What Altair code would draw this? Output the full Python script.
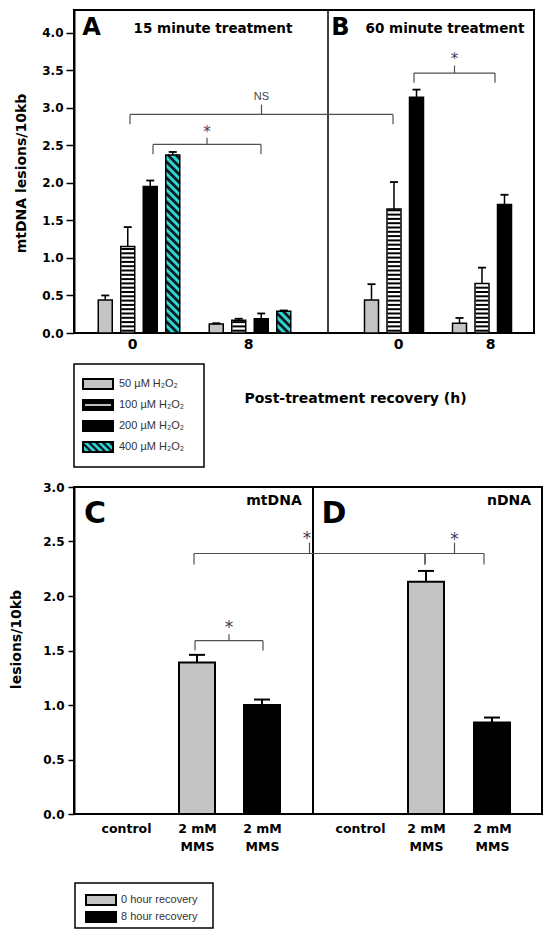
import altair as alt
import numpy as np
import pandas as pd

# ------------------------------------------------------------------ data
conc_labels = ["50 µM H₂O₂", "100 µM H₂O₂", "200 µM H₂O₂", "400 µM H₂O₂"]
recovery_hours = ["0", "8"]
treat15_0h = [0.44, 1.15, 1.95, 2.37]
treat15_0h_err = [0.06, 0.26, 0.08, 0.04]
treat15_8h = [0.12, 0.17, 0.19, 0.29]
treat15_8h_err = [0.01, 0.02, 0.07, 0.01]
treat60_0h = [0.44, 1.65, 3.14]
treat60_0h_err = [0.21, 0.36, 0.10]
treat60_8h = [0.13, 0.66, 1.71]
treat60_8h_err = [0.07, 0.21, 0.13]

mms_categories = ["control", "2 mM MMS", "2 mM MMS"]
mms_series = ["control", "0 hour recovery", "8 hour recovery"]
mtdna_lesions = [0.0, 1.39, 1.00]
mtdna_err = [0.0, 0.07, 0.05]
ndna_lesions = [0.0, 2.13, 0.84]
ndna_err = [0.0, 0.10, 0.045]

# ------------------------------------------------------------------ style / layout
FONT = "DejaVu Sans"
LFONT = "Liberation Sans"
GRAY = "#c4c4c4"
CYAN = "#2cd3d3"
BRK = "#505050"
STAR = "#3b4058"

# top panel (A / B)
TW, TH, TYMAX = 460, 323, 4.3
TKY = TH / TYMAX
T_STEP, T_HW = 22.5, 7
T_DIV = 254
t_centers = [65, 176, 320, 408]
t_tick_pos = [58, 174, 324, 416]

# bottom panel (C / D)
BW, BH, BYMAX = 468, 327, 3.0
BKY = BH / BYMAX
B_HW = 18
B_DIV = 239
b_pos_c = [52, 123, 188]
b_pos_d = [286, 352, 418]


def stripes(x0, x1, y0, y1, ky, period=4.3, start=2.3):
    out = []
    p = start
    while p < (y1 - y0) * ky - 1.2:
        out.append(dict(x=x0, x2=x1, y=y0 + p / ky))
        p += period
    return out


def hatch(x0, x1, y0, y1, ky, period=8.0, flip=False):
    w = x1 - x0
    h = (y1 - y0) * ky
    out = []
    c = period / 2
    while c < w + h:
        u1 = max(0.0, c - h)
        u2 = min(w, c)
        if flip:
            out.append(dict(x=x1 - u1, y=y0 + (c - u1) / ky, x2=x1 - u2, y2=y0 + (c - u2) / ky))
        else:
            out.append(dict(x=x0 + u1, y=y0 + (c - u1) / ky, x2=x0 + u2, y2=y0 + (c - u2) / ky))
        c += period
    return out


def bracket(xl, xr, yline, yend, ytop):
    xm = (xl + xr) / 2
    return [
        dict(x=xl, x2=xr, y=yline, y2=yline),
        dict(x=xl, x2=xl, y=yline, y2=yend),
        dict(x=xr, x2=xr, y=yline, y2=yend),
        dict(x=xm, x2=xm, y=yline, y2=ytop),
    ]


# ------------------------------------------------------------------ top chart data
t_groups = [
    (t_centers[0], treat15_0h, treat15_0h_err),
    (t_centers[1], treat15_8h, treat15_8h_err),
    (t_centers[2], treat60_0h, treat60_0h_err),
    (t_centers[3], treat60_8h, treat60_8h_err),
]
rows = []
for center, vals, errs in t_groups:
    n = len(vals)
    for i, (v, e) in enumerate(zip(vals, errs)):
        cx = center + (i - (n - 1) / 2) * T_STEP
        rows.append(dict(series=conc_labels[i], idx=i, v=v, e=e, up=v + e, cx=cx,
                         x=cx - T_HW, x2=cx + T_HW, zero=0.0, cl=cx - 4, cr=cx + 4))
tb = pd.DataFrame(rows)

t_str = []
t_hat = []
for r in rows:
    if r["idx"] == 1:
        t_str += stripes(r["x"] + 0.6, r["x2"] - 0.6, 0.0, r["v"], TKY)
    if r["idx"] == 3:
        t_hat += hatch(r["x"], r["x2"], 0.0, r["v"], TKY)
t_str = pd.DataFrame(t_str)
t_hat = pd.DataFrame(t_hat)

t_brk = pd.DataFrame(
    bracket(56, 319, 2.91, 2.78, 3.04)
    + bracket(79, 187, 2.51, 2.38, 2.60)
    + bracket(340, 421, 3.46, 3.33, 3.56)
)
t_stars = pd.DataFrame([dict(x=133, y=2.73, t="*"), dict(x=380.5, y=3.70, t="*")])
t_ns = pd.DataFrame([dict(x=187.5, y=3.14, t="NS")])
t_letters = pd.DataFrame([dict(x=17.5, y=4.06, t="A"), dict(x=266.5, y=4.06, t="B")])
t_titles = pd.DataFrame([dict(x=139, y=4.05, t="15 minute treatment"),
                         dict(x=371, y=4.05, t="60 minute treatment")])
t_div = pd.DataFrame([dict(x=T_DIV, y=0.0, y2=TYMAX)])

t_label_expr = " : ".join(
    f"datum.value == {p} ? '{lab}'" for p, lab in zip(t_tick_pos, recovery_hours * 2)
) + " : ''"

t_xscale = alt.Scale(domain=[0, TW], nice=False, zero=False)
t_yscale = alt.Scale(domain=[0, TYMAX], nice=False, zero=False)
t_xaxis = alt.Axis(values=t_tick_pos, labelExpr=t_label_expr, ticks=False, grid=False, domain=False,
                   labelFont=FONT, labelFontSize=14, labelFontWeight="bold", labelColor="black",
                   labelPadding=4, labelFlush=False, labelOverlap=False,
                   title="Post-treatment recovery (h)", titleFont=FONT, titleFontSize=14,
                   titleFontWeight="bold", titleColor="black", titleX=281, titleY=65,
                   titleAlign="center", titleBaseline="middle")
t_yaxis = alt.Axis(values=[0, 0.5, 1.0, 1.5, 2.0, 2.5, 3.0, 3.5, 4.0], format=".1f", grid=False,
                   domain=True, domainColor="black", domainWidth=2, ticks=True, tickColor="black",
                   tickWidth=1.5, tickSize=8, labelFont=FONT, labelFontSize=12, labelFontWeight="bold",
                   labelColor="black", labelPadding=3,
                   title="mtDNA lesions/10kb", titleFont=FONT, titleFontSize=14, titleFontWeight="bold",
                   titleColor="black", titleX=-53, titleY=163, titleAngle=270, titleAlign="center",
                   titleBaseline="middle")


def tx(f):
    return alt.X(f, type="quantitative", scale=t_xscale, axis=t_xaxis)


def ty(f):
    return alt.Y(f, type="quantitative", scale=t_yscale, axis=t_yaxis)


t_color = alt.Color("series:N", scale=alt.Scale(domain=conc_labels, range=[GRAY, "white", "black", CYAN]),
                    legend=None)

top = alt.layer(
    alt.Chart(tb).mark_rect(strokeWidth=0).encode(x=tx("x"), x2="x2", y=ty("v"), y2="zero", color=t_color),
    alt.Chart(t_str).mark_rule(color="black", strokeWidth=2).encode(x=tx("x"), x2="x2", y=ty("y")),
    alt.Chart(t_hat).mark_rule(color="#101418", strokeWidth=2.5).encode(x=tx("x"), x2="x2", y=ty("y"), y2="y2"),
    alt.Chart(tb).mark_rect(fillOpacity=0, stroke="black", strokeWidth=1.5).encode(
        x=tx("x"), x2="x2", y=ty("v"), y2="zero"),
    alt.Chart(tb).mark_rule(color="black", strokeWidth=1.5).encode(x=tx("cx"), y=ty("v"), y2="up"),
    alt.Chart(tb).mark_rule(color="black", strokeWidth=1.8).encode(x=tx("cl"), x2="cr", y=ty("up")),
    alt.Chart(t_div).mark_rule(color="black", strokeWidth=1.5).encode(x=tx("x"), y=ty("y"), y2="y2"),
    alt.Chart(t_brk).mark_rule(color=BRK, strokeWidth=1.2).encode(x=tx("x"), x2="x2", y=ty("y"), y2="y2"),
    alt.Chart(t_stars).mark_text(font=FONT, fontSize=15, color=STAR, baseline="middle", dy=4).encode(
        x=tx("x"), y=ty("y"), text="t:N"),
    alt.Chart(t_ns).mark_text(font=LFONT, fontSize=11, color="#444444", baseline="middle").encode(
        x=tx("x"), y=ty("y"), text="t:N"),
    alt.Chart(t_letters).mark_text(font=FONT, fontSize=24, fontWeight="bold", color="black",
                                   baseline="middle").encode(x=tx("x"), y=ty("y"), text="t:N"),
    alt.Chart(t_titles).mark_text(font=FONT, fontSize=13.5, fontWeight="bold", color="black",
                                  baseline="middle").encode(x=tx("x"), y=ty("y"), text="t:N"),
).properties(width=TW, height=TH, view=alt.ViewBackground(stroke="black", strokeWidth=2))

# ------------------------------------------------------------------ top legend
LT_H = 154
lt_rows = []
for i, lab in enumerate(conc_labels):
    lt_rows.append(dict(series=lab, idx=i, x=9, x2=39, y=i - 0.24, y2=i + 0.24, tx=45, ty=i))
lt = pd.DataFrame(lt_rows)
lt_box = pd.DataFrame([dict(x=0, x2=130, y=-0.95, y2=3.95)])
lt_line = pd.DataFrame([dict(x=11, x2=37, y=1.0)])
lt_hat = pd.DataFrame(hatch(9, 39, 3 - 0.24, 3 + 0.24, 21.0, period=7.0, flip=True))
lt_x = alt.Scale(domain=[0, TW], nice=False, zero=False)
lt_y = alt.Scale(domain=[-2.43, 4.905], nice=False, zero=False, reverse=True)


def lx(f):
    return alt.X(f, type="quantitative", scale=lt_x, axis=None)


def ly(f):
    return alt.Y(f, type="quantitative", scale=lt_y, axis=None)


lt_color = alt.Color("series:N", scale=alt.Scale(domain=conc_labels, range=[GRAY, "black", "black", CYAN]),
                     legend=None)
leg_top = alt.layer(
    alt.Chart(lt_box).mark_rect(fill="white", stroke="black", strokeWidth=1.5).encode(
        x=lx("x"), x2="x2", y=ly("y"), y2="y2"),
    alt.Chart(lt).mark_rect(strokeWidth=0).encode(x=lx("x"), x2="x2", y=ly("y"), y2="y2", color=lt_color),
    alt.Chart(lt_hat).mark_rule(color="#101418", strokeWidth=2.2).encode(x=lx("x"), x2="x2", y=ly("y"), y2="y2"),
    alt.Chart(lt).mark_rect(fillOpacity=0, stroke="black", strokeWidth=2).encode(
        x=lx("x"), x2="x2", y=ly("y"), y2="y2"),
    alt.Chart(lt_line).mark_rule(color="white", strokeWidth=1.5).encode(x=lx("x"), x2="x2", y=ly("y")),
    alt.Chart(lt).mark_text(font=LFONT, fontSize=11, color="#333333", align="left", baseline="middle").encode(
        x=lx("tx"), y=ly("ty"), text="series:N"),
).properties(width=TW, height=LT_H)

# ------------------------------------------------------------------ bottom chart data
b_rows = []
for positions, vals, errs in [(b_pos_c, mtdna_lesions, mtdna_err), (b_pos_d, ndna_lesions, ndna_err)]:
    for i, (p, v, e) in enumerate(zip(positions, vals, errs)):
        b_rows.append(dict(series=mms_series[i], cat=mms_categories[i], v=v, e=e, up=v + e, cx=p,
                           x=p - B_HW, x2=p + B_HW, zero=0.0, cl=p - 8, cr=p + 8))
bb = pd.DataFrame(b_rows)
bb_bars = bb[bb.v > 0]
bb_err = bb[bb.e > 0]

b_brk = pd.DataFrame(
    bracket(120, 351, 2.39, 2.29, 2.49)
    + bracket(351, 410, 2.39, 2.29, 2.49)
    + bracket(121, 189, 1.59, 1.50, 1.65)
)
b_stars = pd.DataFrame([dict(x=233, y=2.57, t="*"), dict(x=380.5, y=2.56, t="*"), dict(x=155, y=1.75, t="*")])
b_letters = pd.DataFrame([dict(x=21, y=2.75, t="C"), dict(x=260, y=2.75, t="D")])
b_titles = pd.DataFrame([dict(x=200, y=2.87, t="mtDNA"), dict(x=435, y=2.87, t="nDNA")])
b_div = pd.DataFrame([dict(x=B_DIV, y=0.0, y2=BYMAX)])

b_tick_pos = b_pos_c + b_pos_d
b_parts = []
for p, lab in zip(b_tick_pos, mms_categories * 2):
    words = lab.split(" ")
    if len(words) > 2:
        lit = "['" + " ".join(words[:2]) + "', '" + " ".join(words[2:]) + "']"
    else:
        lit = "'" + lab + "'"
    b_parts.append(f"datum.value == {p} ? {lit}")
b_label_expr = " : ".join(b_parts) + " : ''"

b_xscale = alt.Scale(domain=[0, BW], nice=False, zero=False)
b_yscale = alt.Scale(domain=[0, BYMAX], nice=False, zero=False)
b_xaxis = alt.Axis(values=b_tick_pos, labelExpr=b_label_expr, ticks=False, grid=False, domain=False,
                   labelFont=FONT, labelFontSize=12.5, labelFontWeight="bold", labelColor="black",
                   labelPadding=8, labelLineHeight=18, labelFlush=False, labelOverlap=False, title=None)
b_yaxis = alt.Axis(values=[0, 0.5, 1.0, 1.5, 2.0, 2.5, 3.0], format=".1f", grid=False,
                   domain=True, domainColor="black", domainWidth=2, ticks=True, tickColor="black",
                   tickWidth=1.5, tickSize=6, labelFont=FONT, labelFontSize=12, labelFontWeight="bold",
                   labelColor="black", labelPadding=4,
                   title="lesions/10kb", titleFont=FONT, titleFontSize=14, titleFontWeight="bold",
                   titleColor="black", titleX=-58, titleY=152, titleAngle=270, titleAlign="center",
                   titleBaseline="middle")


def bx(f):
    return alt.X(f, type="quantitative", scale=b_xscale, axis=b_xaxis)


def by(f):
    return alt.Y(f, type="quantitative", scale=b_yscale, axis=b_yaxis)


b_color = alt.Color("series:N", scale=alt.Scale(domain=mms_series, range=["white", GRAY, "black"]), legend=None)

bottom = alt.layer(
    alt.Chart(bb_bars).mark_rect(stroke="black", strokeWidth=2).encode(
        x=bx("x"), x2="x2", y=by("v"), y2="zero", color=b_color),
    alt.Chart(bb_err).mark_rule(color="black", strokeWidth=2).encode(x=bx("cx"), y=by("v"), y2="up"),
    alt.Chart(bb_err).mark_rule(color="black", strokeWidth=2).encode(x=bx("cl"), x2="cr", y=by("up")),
    alt.Chart(b_div).mark_rule(color="black", strokeWidth=2).encode(x=bx("x"), y=by("y"), y2="y2"),
    alt.Chart(b_brk).mark_rule(color=BRK, strokeWidth=1.2).encode(x=bx("x"), x2="x2", y=by("y"), y2="y2"),
    alt.Chart(b_stars).mark_text(font=FONT, fontSize=17, color=STAR, baseline="middle", dy=5).encode(
        x=bx("x"), y=by("y"), text="t:N"),
    alt.Chart(b_letters).mark_text(font=FONT, fontSize=30, fontWeight="bold", color="black",
                                   baseline="middle").encode(x=bx("x"), y=by("y"), text="t:N"),
    alt.Chart(b_titles).mark_text(font=FONT, fontSize=14, fontWeight="bold", color="black",
                                  baseline="middle").encode(x=bx("x"), y=by("y"), text="t:N"),
).properties(width=BW, height=BH, view=alt.ViewBackground(stroke="black", strokeWidth=2))

# ------------------------------------------------------------------ bottom legend
LB_H = 115
lb_labels = mms_series[1:]
lb = pd.DataFrame([dict(series=lab, x=12, x2=42, y=i - 0.3, y2=i + 0.3, tx=47, ty=i)
                   for i, lab in enumerate(lb_labels)])
lb_box = pd.DataFrame([dict(x=1, x2=139, y=-1.0, y2=1.65)])
lb_x = alt.Scale(domain=[0, BW], nice=False, zero=False)
lb_y = alt.Scale(domain=[-5.06, 1.706], nice=False, zero=False, reverse=True)


def mx(f):
    return alt.X(f, type="quantitative", scale=lb_x, axis=None)


def my(f):
    return alt.Y(f, type="quantitative", scale=lb_y, axis=None)


lb_color = alt.Color("series:N", scale=alt.Scale(domain=lb_labels, range=[GRAY, "black"]), legend=None)
leg_bottom = alt.layer(
    alt.Chart(lb_box).mark_rect(fill="white", stroke="black", strokeWidth=1.5).encode(
        x=mx("x"), x2="x2", y=my("y"), y2="y2"),
    alt.Chart(lb).mark_rect(stroke="black", strokeWidth=2).encode(
        x=mx("x"), x2="x2", y=my("y"), y2="y2", color=lb_color),
    alt.Chart(lb).mark_text(font=LFONT, fontSize=11, color="#333333", align="left", baseline="middle").encode(
        x=mx("tx"), y=my("ty"), text="series:N"),
).properties(width=BW, height=LB_H)

chart = alt.vconcat(top, leg_top, bottom, leg_bottom, spacing=0, bounds="flush").resolve_scale(
    color="independent", x="independent", y="independent"
).properties(
    padding={"left": 0, "top": 0, "right": 0, "bottom": 0}
).configure_view(strokeWidth=0)

chart.save("out.html", embed_options={"renderer": "svg", "actions": False})
